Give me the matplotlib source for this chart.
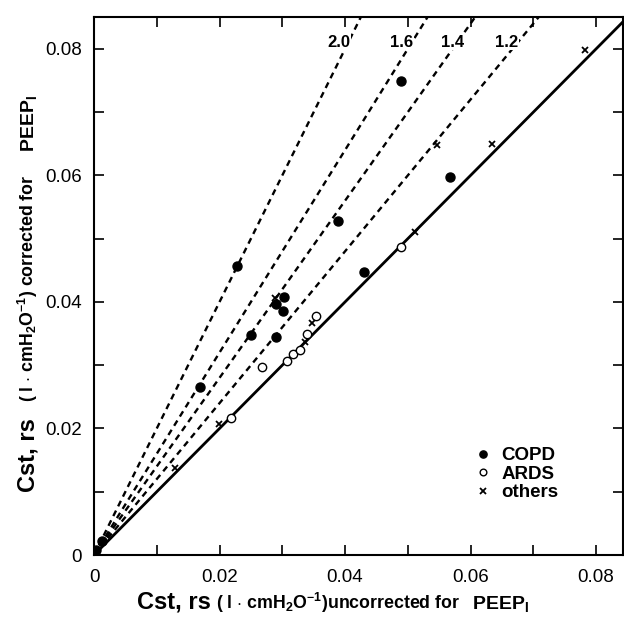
import numpy as np
import matplotlib
matplotlib.use("Agg")
import matplotlib.pyplot as plt
from matplotlib.ticker import MultipleLocator, FuncFormatter

plt.rcParams['font.family'] = ['Liberation Sans', 'DejaVu Sans']
plt.rcParams['mathtext.fontset'] = 'custom'
plt.rcParams['mathtext.rm'] = 'Liberation Sans'
plt.rcParams['mathtext.bf'] = 'Liberation Sans:bold'
plt.rcParams['mathtext.it'] = 'Liberation Sans:italic'

# data
copd_x = [0.0003, 0.0012, 0.0169, 0.0228, 0.0250, 0.0290, 0.0290, 0.0301, 0.0302, 0.0389, 0.0430, 0.0489, 0.0567]
copd_y = [0.0008, 0.0022, 0.0266, 0.0457, 0.0348, 0.0345, 0.0397, 0.0386, 0.0408, 0.0528, 0.0448, 0.0750, 0.0598]

ards_x = [0.0218, 0.0267, 0.0308, 0.0317, 0.0328, 0.0339, 0.0354, 0.0489]
ards_y = [0.0216, 0.0297, 0.0306, 0.0318, 0.0324, 0.0350, 0.0378, 0.0487]

others_x = [0.0129, 0.0199, 0.0288, 0.0337, 0.0348, 0.0512, 0.0547, 0.0635, 0.0782]
others_y = [0.0137, 0.0207, 0.0407, 0.0336, 0.0367, 0.0510, 0.0648, 0.0650, 0.0799]

slopes = [2.0, 1.6, 1.4, 1.2]
slope_labels = ["2.0", "1.6", "1.4", "1.2"]
slope_label_x = [0.0390, 0.0490, 0.0572, 0.0657]

xmax, ymax = 0.0843, 0.0851

W, H = 624, 617
fig = plt.figure(figsize=(W / 100, H / 100), dpi=100)
ax = fig.add_axes([94 / W, 62 / H, 529 / W, 538.3 / H])

xs = np.linspace(0, xmax, 50)
ax.plot(xs, xs, color='black', lw=2.0, zorder=2)
for s in slopes:
    ax.plot(xs, s * xs, color='black', lw=1.7, linestyle=(0, (2.6, 2.0)), zorder=2)

for lab, lx in zip(slope_labels, slope_label_x):
    ax.text(lx, 0.0811, lab, ha='center', va='center', fontsize=12, fontweight='bold',
            bbox=dict(facecolor='white', edgecolor='none', pad=0.5), zorder=4)

ax.plot(copd_x, copd_y, 'o', color='black', ms=6.5, ls='none', label='COPD', zorder=3)
ax.plot(ards_x, ards_y, 'o', mfc='white', mec='black', mew=1.0, ms=6, ls='none', label='ARDS', zorder=3)
ax.plot(others_x, others_y, 'x', color='black', mew=1.3, ms=5, ls='none', label='others', zorder=3)

ax.set_xlim(0, xmax)
ax.set_ylim(0, ymax)

fmt = FuncFormatter(lambda v, p: "0" if abs(v) < 1e-9 else f"{v:.2f}")
for axis in (ax.xaxis, ax.yaxis):
    axis.set_major_locator(MultipleLocator(0.02))
    axis.set_minor_locator(MultipleLocator(0.01))
    axis.set_major_formatter(fmt)
ax.tick_params(which='both', direction='in', length=7, width=1.2,
               top=True, right=True, labelsize=13.5)
ax.tick_params(axis='x', pad=10)
ax.tick_params(axis='y', pad=9)
for sp in ax.spines.values():
    sp.set_linewidth(1.5)

leg = ax.legend(loc='upper left', bbox_to_anchor=((478 - 94) / 529, (555 - 447) / 538.3),
                frameon=False, borderpad=0, borderaxespad=0, handlelength=0.5,
                handletextpad=0.75, labelspacing=0.08, markerscale=0.8,
                prop={'size': 13.5, 'weight': 'bold'})

# axis labels built from pieces of different size
def fx(px):
    return px / W

def fy(py):
    return 1 - py / H

small = r"( l $\cdot$ cmH$_{\mathbf{2}}$O$^{\mathbf{-1}}$)"
fig.text(fx(137), fy(609), "Cst, rs", fontsize=17, fontweight='bold', ha='left', va='baseline')
fig.text(fx(216), fy(609), small + "uncorrected for", fontsize=12.8,
         fontweight='bold', ha='left', va='baseline')
fig.text(fx(472), fy(609), r"PEEP$_{\mathbf{I}}$", fontsize=14, fontweight='bold', ha='left', va='baseline')

fig.text(fx(34), fy(492), "Cst, rs", fontsize=17, fontweight='bold', rotation=90,
         rotation_mode='anchor', ha='left', va='baseline')
fig.text(fx(34), fy(402), small + " corrected for", fontsize=12.8,
         fontweight='bold', rotation=90, rotation_mode='anchor', ha='left', va='baseline')
fig.text(fx(34), fy(152), r"PEEP$_{\mathbf{I}}$", fontsize=14, fontweight='bold', rotation=90,
         rotation_mode='anchor', ha='left', va='baseline')

fig.savefig("out.png", dpi=100)
